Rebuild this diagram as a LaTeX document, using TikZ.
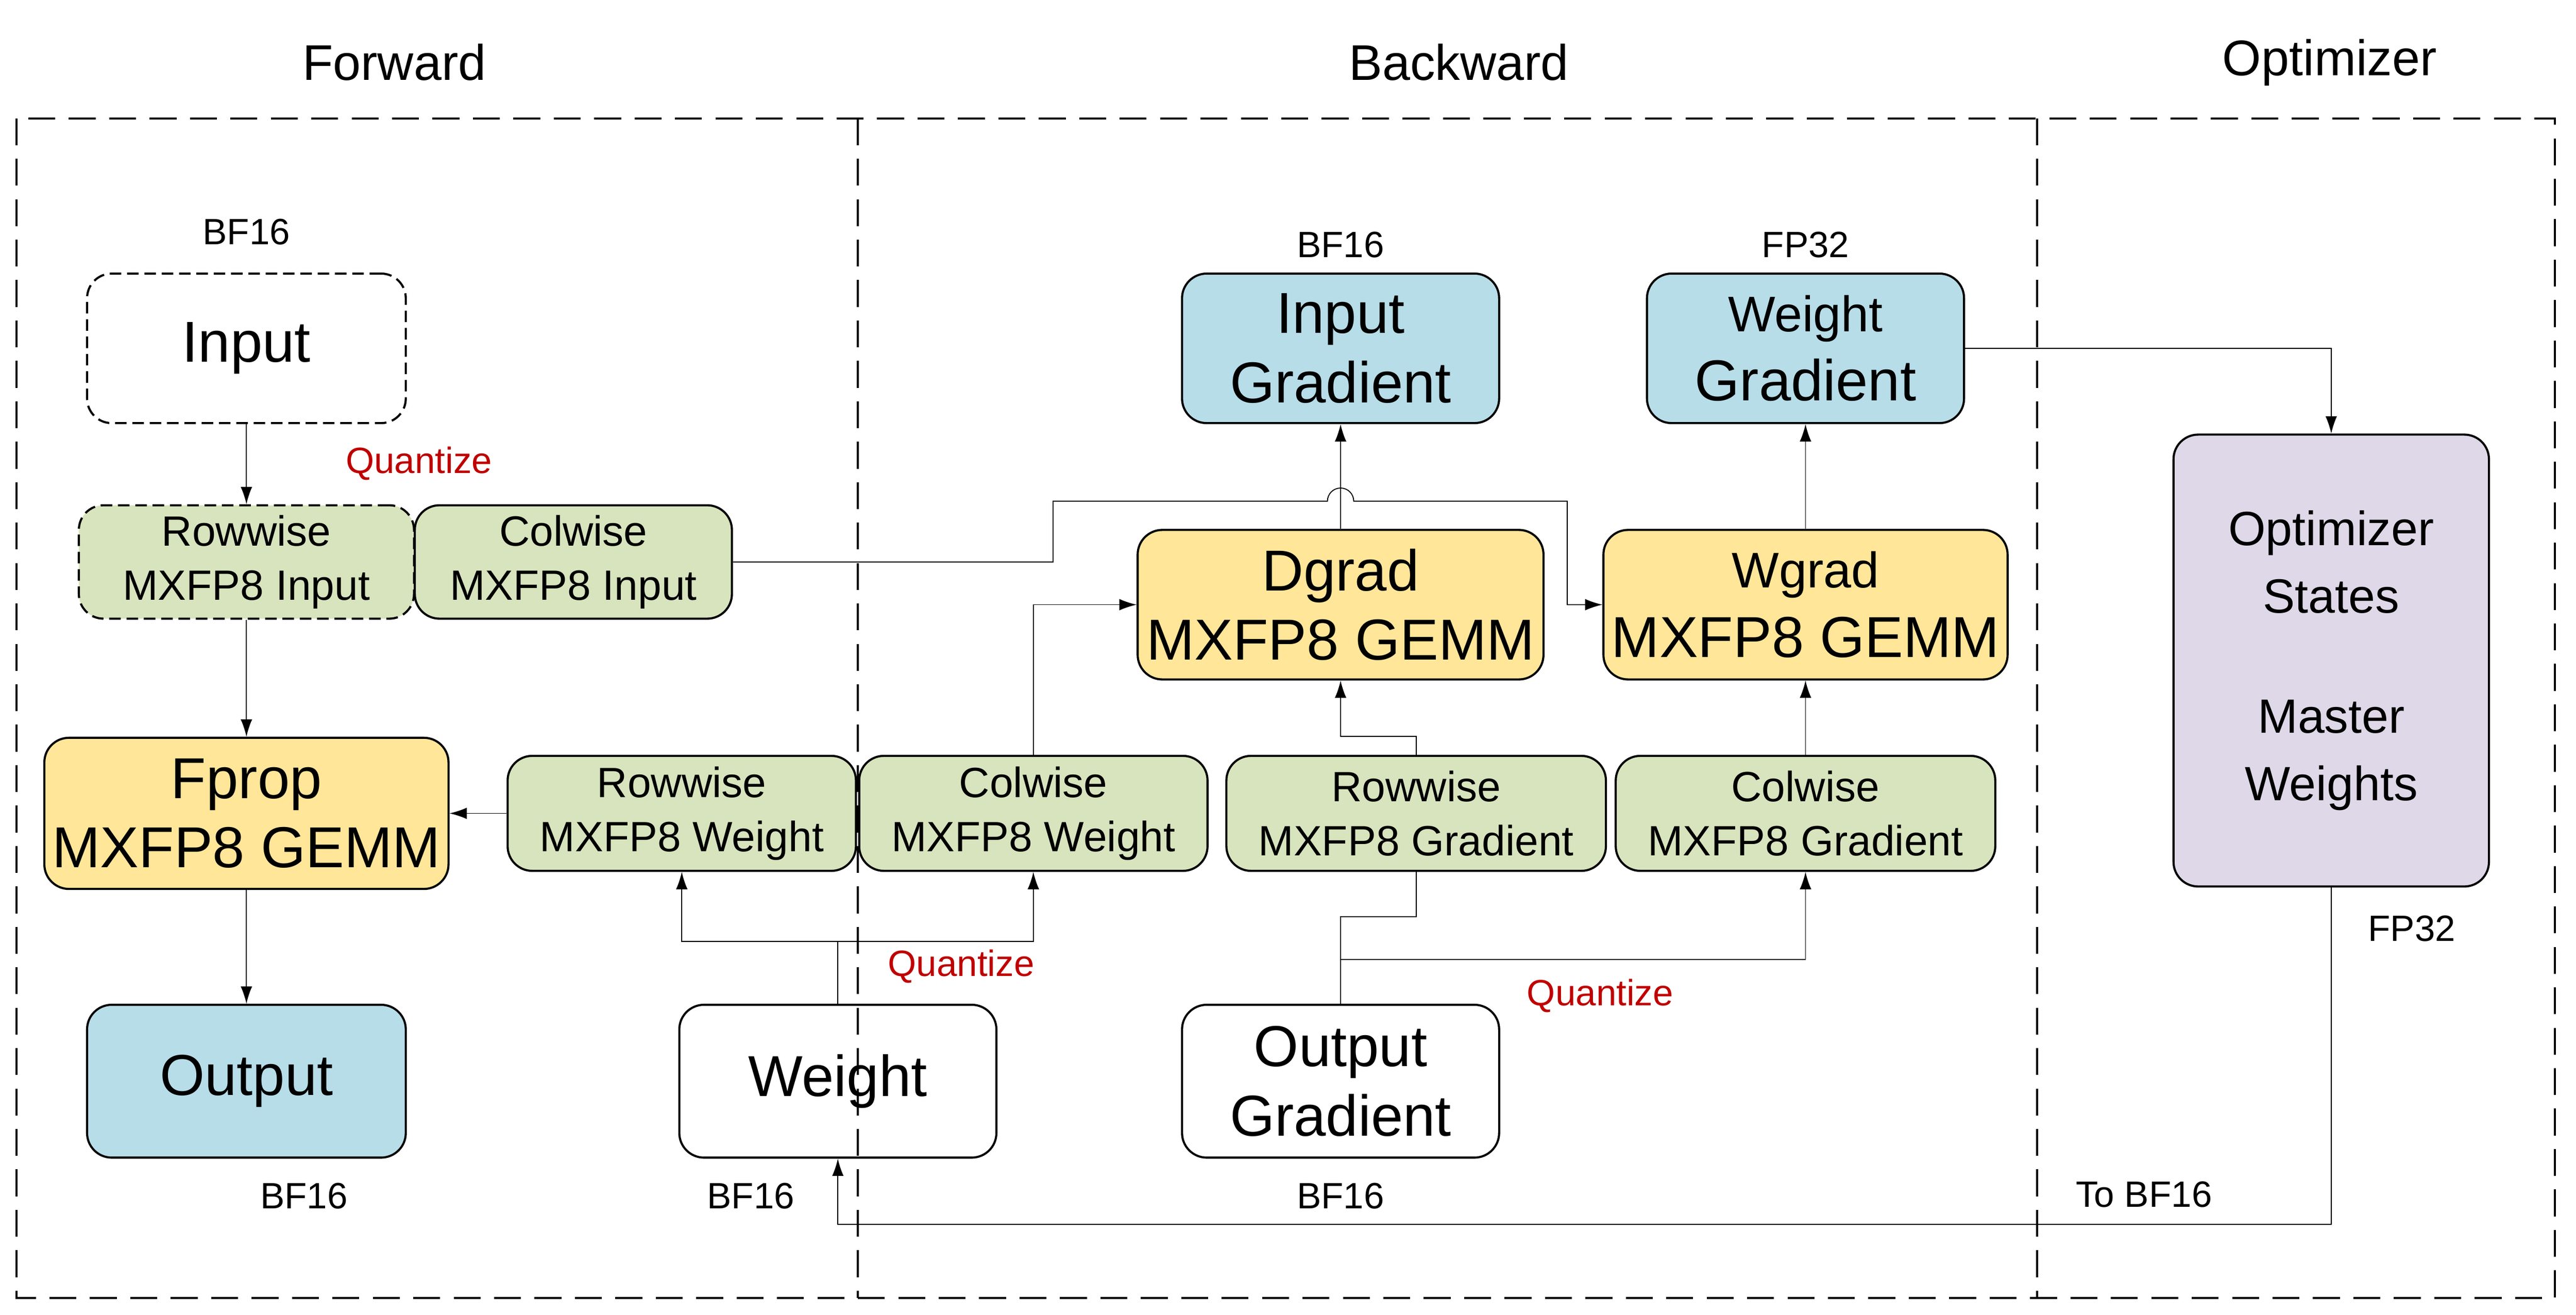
\documentclass[tikz,border=0pt]{standalone}
\usepackage{fontspec}
\setmainfont{Liberation Sans}
\usetikzlibrary{arrows.meta}
\definecolor{cblue}{HTML}{B7DDE8}
\definecolor{cgreen}{HTML}{D7E4BD}
\definecolor{cyellow}{HTML}{FFE699}
\definecolor{cpurple}{HTML}{DED8E8}
\definecolor{cred}{HTML}{C00000}
\begin{document}
\begin{tikzpicture}[x=0.03cm,y=-0.03cm,
  box/.style={draw,line width=1.1pt,rounded corners=0.45cm,align=center,inner sep=0pt},
  big/.style={font=\fontsize{30}{36}\selectfont},
  mid/.style={font=\fontsize{22}{28}\selectfont},
  lab/.style={font=\fontsize{19}{22}\selectfont},
  head/.style={font=\fontsize{26}{30}\selectfont},
  red/.style={lab,text=cred},
  con/.style={line width=0.5pt,-{Latex[length=9pt,width=6pt]}},
  lin/.style={line width=0.5pt},
  frame/.style={dash pattern=on 14pt off 7pt,line width=1.1pt}]
\useasboundingbox (0,0) rectangle (1568,800);
% frames
\draw[frame] (10,72) rectangle (1555,790);
\draw[frame] (522,72) -- (522,790);
\draw[frame] (1240,72) -- (1240,790);
\node[head] (hf) at (240,38) {Forward};
\node[head] (hb) at (888,38) {Backward};
\node[head] (ho) at (1418,38) {Optimizer};
% nodes
\node[box,big,dash pattern=on 6pt off 3pt,minimum width=194\pgflinewidth*0+5.82cm,minimum height=2.73cm] (in) at (150,212) {Input};
\node[box,mid,fill=cgreen,dash pattern=on 6pt off 3pt,minimum width=6.12cm,minimum height=2.07cm] (rin) at (150,342) {Rowwise\\MXFP8 Input};
\node[box,mid,fill=cgreen,minimum width=5.79cm,minimum height=2.07cm] (cin) at (349,342) {Colwise\\MXFP8 Input};
\node[box,big,fill=cyellow,minimum width=7.38cm,minimum height=2.76cm] (fp) at (150,495) {Fprop\\MXFP8 GEMM};
\node[box,big,fill=cblue,minimum width=5.82cm,minimum height=2.79cm] (out) at (150,658) {Output};
\node[box,mid,fill=cgreen,minimum width=6.36cm,minimum height=2.1cm] (rw) at (415,495) {Rowwise\\MXFP8 Weight};
\node[box,mid,fill=cgreen,minimum width=6.36cm,minimum height=2.1cm] (cw) at (629,495) {Colwise\\MXFP8 Weight};
\node[box,big,minimum width=5.79cm,minimum height=2.79cm] (w) at (510,658) {Weight};
\node[box,mid,fill=cgreen,minimum width=6.93cm,minimum height=2.1cm] (rg) at (862,495) {Rowwise\\MXFP8 Gradient};
\node[box,mid,fill=cgreen,minimum width=6.93cm,minimum height=2.1cm] (cg) at (1099,495) {Colwise\\MXFP8 Gradient};
\node[box,big,minimum width=5.79cm,minimum height=2.79cm] (og) at (816,658) {Output\\Gradient};
\node[box,big,fill=cyellow,minimum width=7.41cm,minimum height=2.73cm] (dg) at (816,368) {Dgrad\\MXFP8 GEMM};
\node[box,big,fill=cyellow,minimum width=7.38cm,minimum height=2.73cm] (wg) at (1099,368) {\fontsize{26}{36}\selectfont Wgrad\\MXFP8 GEMM};
\node[box,big,fill=cblue,minimum width=5.79cm,minimum height=2.73cm] (ig) at (816,212) {Input\\Gradient};
\node[box,big,fill=cblue,minimum width=5.79cm,minimum height=2.73cm] (wgr) at (1099,212) {\fontsize{26}{36}\selectfont Weight\\Gradient};
\node[box,mid,font=\fontsize{25}{35}\selectfont,fill=cpurple,minimum width=5.76cm,minimum height=8.25cm] (opt) at (1419,402) {Optimizer\\States\\[1.1em]Master\\Weights};
% labels
\node[lab] (l1) at (150,141) {BF16};
\node[lab] (l2) at (185,728) {BF16};
\node[lab] (l3) at (457,728) {BF16};
\node[lab] (l4) at (816,728) {BF16};
\node[lab] (l5) at (816,149) {BF16};
\node[lab] (l6) at (1099,149) {FP32};
\node[lab] (l7) at (1468,565) {FP32};
\node[lab] (l8) at (1305,727) {To BF16};
\node[red] (q1) at (255,282) {Quantize};
\node[red] (q2) at (585,588) {Quantize};
\node[red] (q3) at (974,606) {Quantize};
% connectors
\draw[con] (in) -- (rin);
\draw[con] (rin) -- (fp);
\draw[con] (fp) -- (out);
\draw[con] (rw) -- (fp);
\coordinate (wj) at (510,573);
\draw[lin] (w.north) -- (wj);
\draw[con] (wj) -| (rw.south);
\draw[con] (wj) -| (cw.south);
\draw[con] (cw.north) |- (dg.west);
\draw[con] (rg.north) -- (862,448) -| (dg.south);
\draw[con] (cg) -- (wg);
\draw[con] (dg) -- (ig);
\draw[con] (wg) -- (wgr);
\draw[lin] (og.north) -- (816,558) -| (rg.south);
\draw[con] (816,584) -| (cg.south);
\draw[con] (cin.east) -- (641,342) -- (641,305) -- (808,305) arc (180:360:8) -- (954,305) |- (wg.west);
\draw[con] (wgr.east) -| (opt.north);
\draw[con] (opt.south) -- (1419,745) -| (w.south);
\end{tikzpicture}
\end{document}
